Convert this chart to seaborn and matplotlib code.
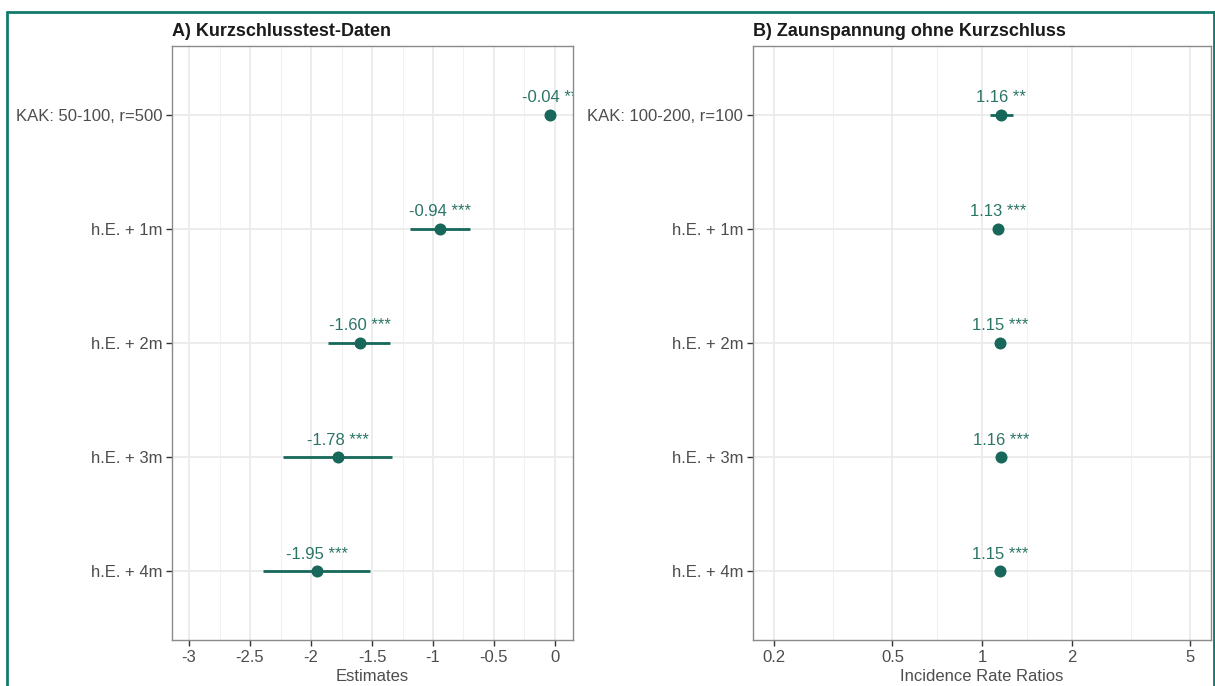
import numpy as np
import pandas as pd
import matplotlib
matplotlib.use("Agg")
import matplotlib.pyplot as plt
from matplotlib.lines import Line2D
from matplotlib.ticker import FixedLocator, NullFormatter
import seaborn as sns

# ---- data ----
labels_a = ["KAK: 50-100, r=500", "h.E. + 1m", "h.E. + 2m", "h.E. + 3m", "h.E. + 4m"]
est_a = [-0.04, -0.94, -1.60, -1.78, -1.95]
lo_a = [-0.07, -1.19, -1.86, -2.23, -2.39]
hi_a = [-0.01, -0.70, -1.35, -1.34, -1.52]
txt_a = ["-0.04 **", "-0.94 ***", "-1.60 ***", "-1.78 ***", "-1.95 ***"]

labels_b = ["KAK: 100-200, r=100", "h.E. + 1m", "h.E. + 2m", "h.E. + 3m", "h.E. + 4m"]
est_b = [1.16, 1.13, 1.15, 1.16, 1.15]
lo_b = [1.06, 1.12, 1.14, 1.15, 1.14]
hi_b = [1.27, 1.14, 1.16, 1.17, 1.16]
txt_b = ["1.16 **", "1.13 ***", "1.15 ***", "1.16 ***", "1.15 ***"]

ticks_a = [-3, -2.5, -2, -1.5, -1, -0.5, 0]
ticklabels_a = ["-3", "-2.5", "-2", "-1.5", "-1", "-0.5", "0"]
minor_a = [-2.75, -2.25, -1.75, -1.25, -0.75, -0.25]
ticks_b = [0.2, 0.5, 1, 2, 5]
ticklabels_b = ["0.2", "0.5", "1", "2", "5"]
minor_b = [np.sqrt(0.1), np.sqrt(0.5), np.sqrt(2), np.sqrt(10)]

sns.set_theme(style="white")
plt.rcParams["font.family"] = ["Liberation Sans", "DejaVu Sans"]

COL = "#17685a"
TXT = "#2b7566"
GRID = "#ebebeb"
TICKC = "#4d4d4d"

fig = plt.figure(figsize=(12.15, 6.86), dpi=100)
ax_a = fig.add_axes([172/1215, 1-640/686, (573-172)/1215, (640-46)/686])
ax_b = fig.add_axes([753/1215, 1-640/686, (1211-753)/1215, (640-46)/686])


def draw(ax, labels, est, lo, hi, txt, title, xlabel, xlim, ticks, ticklabels, minor, log=False):
    df = pd.DataFrame({"term": labels, "est": est, "lo": lo, "hi": hi, "pos": np.arange(len(labels))})
    if log:
        ax.set_xscale("log")
    ax.set_xlim(*xlim)
    ax.set_ylim(len(labels) - 0.4, -0.6)
    # grid
    for m in minor:
        ax.axvline(m, color="#f1f1f1", lw=0.8, zorder=0)
    for t in ticks:
        ax.axvline(t, color=GRID, lw=1.3, zorder=0)
    for p in df["pos"]:
        ax.axhline(p, color=GRID, lw=1.3, zorder=0)
    ax.hlines(df["pos"], df["lo"], df["hi"], color=COL, lw=2, zorder=2)
    sns.scatterplot(data=df, x="est", y="pos", ax=ax, color=COL, s=75, edgecolor=COL, linewidth=0, zorder=3)
    for p, e, t in zip(df["pos"], df["est"], txt):
        ax.annotate(t, xy=(e, p), xytext=(0, 7), textcoords="offset points",
                    ha="center", va="bottom", color=TXT, fontsize=12, clip_on=True,
                    annotation_clip=True)
    ax.set_yticks(df["pos"])
    ax.set_yticklabels(labels)
    ax.xaxis.set_major_locator(FixedLocator(ticks))
    ax.set_xticklabels(ticklabels)
    ax.xaxis.set_minor_locator(FixedLocator([]))
    ax.xaxis.set_minor_formatter(NullFormatter())
    ax.tick_params(axis="both", which="major", length=4, width=1, color="#333333",
                   labelsize=12, labelcolor=TICKC, pad=3, bottom=True, left=True)
    for s in ax.spines.values():
        s.set_color("#8a8a8a")
        s.set_linewidth(1)
    ax.set_xlabel(xlabel, fontsize=12, color=TICKC, labelpad=3)
    ax.set_ylabel("")
    ax.set_title(title, loc="left", fontsize=13, fontweight="bold", color="#1a1a1a", pad=7)
    ax.grid(False)


draw(ax_a, labels_a, est_a, lo_a, hi_a, txt_a, "A) Kurzschlusstest-Daten", "Estimates",
     (-3.14, 0.148), ticks_a, ticklabels_a, minor_a)
draw(ax_b, labels_b, est_b, lo_b, hi_b, txt_b, "B) Zaunspannung ohne Kurzschluss", "Incidence Rate Ratios",
     (10**-0.77, 10**0.77), ticks_b, ticklabels_b, minor_b, log=True)

# teal frame
frame = "#137a6b"
fig.add_artist(Line2D([7/1215, 1], [1-12/686, 1-12/686], color=frame, lw=2, transform=fig.transFigure))
fig.add_artist(Line2D([7/1215, 7/1215], [0, 1-12/686], color=frame, lw=2, transform=fig.transFigure))
fig.add_artist(Line2D([1213.5/1215, 1213.5/1215], [0, 1-12/686], color=frame, lw=2, transform=fig.transFigure))

fig.savefig("out.png", dpi=100)
